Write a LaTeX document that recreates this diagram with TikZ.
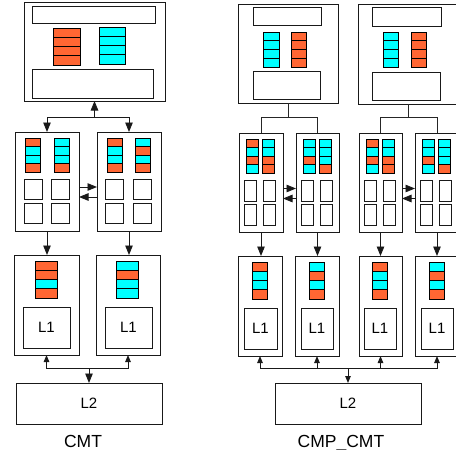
\documentclass[tikz,border=0pt]{standalone}
\usepackage{fontspec}
\setmainfont{Liberation Sans}
\usetikzlibrary{arrows.meta,positioning}
\definecolor{orng}{HTML}{FF6633}
\definecolor{cyn}{HTML}{00FFFF}

\begin{document}
\begin{tikzpicture}[
    x=1pt, y=-1pt,
    mem/.style={draw=black!90, line width=1pt, inner sep=0pt, outer sep=0pt, anchor=north west},
    core/.style={draw=black!90, line width=1pt, inner sep=0pt, outer sep=0pt, anchor=north west},
    inbox/.style={draw=black!90, line width=1pt, inner sep=0pt, outer sep=0pt, anchor=north west, font=\fontsize{15}{17}\selectfont},
    cell/.style={draw=black, line width=0.9pt},
    figlabel/.style={font=\fontsize{17.5}{20}\selectfont, anchor=base, inner sep=0pt},
    link/.style={line width=0.9pt, black!85},
    arrow/.style={-{Triangle[length=9.5pt, width=7.5pt]}, line width=0.9pt, black!90},
    sarrow/.style={-{Triangle[length=7pt, width=5.5pt]}, line width=0.9pt, black!90},
]
    \useasboundingbox (0,0) rectangle (456,450);

    % CMT
    \node [mem, minimum width=141pt, minimum height=99pt] (cmtMem) at (24,2) {};
    \node [inbox, minimum width=123pt, minimum height=17pt] (cmtTag) at (32,6) {};
    \node [inbox, minimum width=121pt, minimum height=29pt] (cmtDir) at (32,69) {};

    \node [core, minimum width=64pt, minimum height=99pt] (coreA) at (15,132) {};
    \node [core, minimum width=64pt, minimum height=99pt] (coreB) at (97,132) {};
    \foreach \n/\x/\y in {a1/24/179, a2/51/179, a3/24/203, a4/51/203,
                          b1/105/179, b2/133/179, b3/105/203, b4/133/203}
        \node [inbox, minimum width=18pt, minimum height=20pt] (reg\n) at (\x,\y) {};

    \node [core, minimum width=65pt, minimum height=100pt] (l1A) at (14,255) {};
    \node [core, minimum width=64pt, minimum height=100pt] (l1B) at (96,255) {};
    \node [inbox, minimum width=47pt, minimum height=41pt] (cacheA) at (23,307) {L1};
    \node [inbox, minimum width=47pt, minimum height=41pt] (cacheB) at (105,307) {L1};

    \node [inbox, minimum width=146pt, minimum height=41pt] (cmtL2) at (16,383) {L2};
    \node [figlabel] (cmtName) at (83,447) {CMT};

    \coordinate (jA) at ([yshift=-16pt]cmtMem.south);
    \draw [arrow] (jA) -- (cmtMem.south);
    \draw [arrow] (jA) -| (coreA.north);
    \draw [arrow] (jA) -| (coreB.north);
    \draw [arrow] ([yshift=-5.5pt]coreA.east) -- ([yshift=-5.5pt]coreB.west);
    \draw [arrow] ([yshift=-15.5pt]coreB.west) -- ([yshift=-15.5pt]coreA.east);
    \draw [arrow] (coreA.south) -- (coreA.south |- l1A.north);
    \draw [arrow] (coreB.south) -- (coreB.south |- l1B.north);

    \coordinate (jL) at ([yshift=15pt]cmtL2.north);
    \draw [sarrow] (jL) -| (l1A.south);
    \draw [sarrow] (jL) -| (l1B.south);
    \draw [arrow] (jL) -- (cmtL2.north);

    % CMP_CMT
    \node [mem, minimum width=100pt, minimum height=99pt] (memP) at (238,4) {};
    \node [inbox, minimum width=68pt, minimum height=18pt] (tagP) at (253,7) {};
    \node [inbox, minimum width=67pt, minimum height=28pt] (dirP) at (253,71) {};
    \node [mem, minimum width=100pt, minimum height=100pt] (memQ) at (358,4) {};
    \node [inbox, minimum width=69pt, minimum height=19pt] (tagQ) at (372,7) {};
    \node [inbox, minimum width=68pt, minimum height=28pt] (dirQ) at (372,72) {};

    \node [core, minimum width=44pt, minimum height=99pt] (core1) at (239,133) {};
    \node [core, minimum width=43pt, minimum height=99pt] (core2) at (296,133) {};
    \node [core, minimum width=43pt, minimum height=99pt] (core3) at (359,133) {};
    \node [core, minimum width=44pt, minimum height=99pt] (core4) at (415,133) {};
    \foreach \n/\x in {1/239, 2/296, 3/359, 4/415} {
        \node [inbox, minimum width=12pt, minimum height=21pt] (reg\n a) at (\x+5.5,180) {};
        \node [inbox, minimum width=12pt, minimum height=21pt] (reg\n b) at (\x+24.5,180) {};
        \node [inbox, minimum width=12pt, minimum height=21pt] (reg\n c) at (\x+5.5,204) {};
        \node [inbox, minimum width=12pt, minimum height=21pt] (reg\n d) at (\x+24.5,204) {};
    }

    \node [core, minimum width=44pt, minimum height=100pt] (l1P1) at (238,256) {};
    \node [core, minimum width=44pt, minimum height=100pt] (l1P2) at (295,256) {};
    \node [core, minimum width=43pt, minimum height=100pt] (l1P3) at (359,256) {};
    \node [core, minimum width=44pt, minimum height=100pt] (l1P4) at (415,256) {};
    \node [inbox, minimum width=33pt, minimum height=41pt] (cacheP1) at (244,308) {L1};
    \node [inbox, minimum width=32pt, minimum height=41pt] (cacheP2) at (301,308) {L1};
    \node [inbox, minimum width=32pt, minimum height=41pt] (cacheP3) at (364,308) {L1};
    \node [inbox, minimum width=32pt, minimum height=41pt] (cacheP4) at (421,308) {L1};

    \node [inbox, minimum width=146pt, minimum height=41pt] (cmpL2) at (275,383) {L2};
    \node [figlabel] (cmpName) at (341,447) {CMP\_CMT};

    \coordinate (jP) at ([yshift=-14pt]memP.south);
    \coordinate (jQ) at ([yshift=-13pt]memQ.south);
    \draw [link] (memP.south) -- (jP) -| (core1.north);
    \draw [link] (jP) -| (core2.north);
    \draw [link] (memQ.south) -- (jQ) -| (core3.north);
    \draw [link] (jQ) -| (core4.north);
    \draw [arrow] ([yshift=-6pt]core1.east) -- ([yshift=-6pt]core2.west);
    \draw [arrow] ([yshift=-16pt]core2.west) -- ([yshift=-16pt]core1.east);
    \draw [arrow] ([yshift=-6pt]core3.east) -- ([yshift=-6pt]core4.west);
    \draw [arrow] ([yshift=-16pt]core4.west) -- ([yshift=-16pt]core3.east);
    \foreach \i in {1,2,3,4}
        \draw [arrow] (core\i.south) -- (core\i.south |- l1P\i.north);

    \coordinate (jM) at ([yshift=15pt]cmpL2.north);
    \foreach \i in {1,2,3,4}
        \draw [sarrow] (jM) -| (l1P\i.south);
    \draw [sarrow] (jM) -- (cmpL2.north);

    % cache line stacks: x/y/width/height/colours top to bottom
    \foreach \x/\y/\w/\h/\cols in {
        53/28/27/9.25/{orng,orng,orng,orng}, 99/27/26/9.25/{cyn,cyn,cyn,cyn},
        25/138/15/8.5/{orng,cyn,cyn,orng}, 54/138/15/8.5/{cyn,cyn,cyn,orng},
        107/138/15/8.5/{orng,cyn,cyn,orng}, 135/138/15/8.5/{cyn,orng,cyn,orng},
        35/261/22/9.25/{orng,orng,cyn,orng}, 116/261/22/9.25/{cyn,orng,cyn,cyn},
        263/32/16/8.75/{cyn,cyn,cyn,cyn}, 291/32/15/8.75/{orng,orng,orng,orng},
        383/32/15/8.75/{cyn,cyn,cyn,cyn}, 411/32/15/8.75/{orng,orng,orng,orng},
        246/139/12/8.5/{orng,cyn,orng,cyn}, 262/139/12/8.5/{cyn,cyn,orng,orng},
        303/139/12/8.5/{cyn,cyn,orng,cyn}, 319/139/12/8.5/{cyn,cyn,cyn,orng},
        366/139/12/8.5/{orng,cyn,orng,cyn}, 382/139/12/8.5/{cyn,cyn,orng,orng},
        422/139/12/8.5/{cyn,cyn,orng,cyn}, 438/139/12/8.5/{cyn,cyn,cyn,orng},
        252/262/15/9.25/{orng,cyn,cyn,orng}, 309/262/15/9.25/{cyn,orng,cyn,orng},
        372/262/15/9.25/{orng,cyn,cyn,orng}, 429/262/15/9.25/{cyn,orng,cyn,orng}}
        \foreach \c [count=\k from 0] in \cols
            \draw [cell, fill=\c] (\x,{\y+\k*\h}) rectangle ++(\w,\h);

\end{tikzpicture}
\end{document}
